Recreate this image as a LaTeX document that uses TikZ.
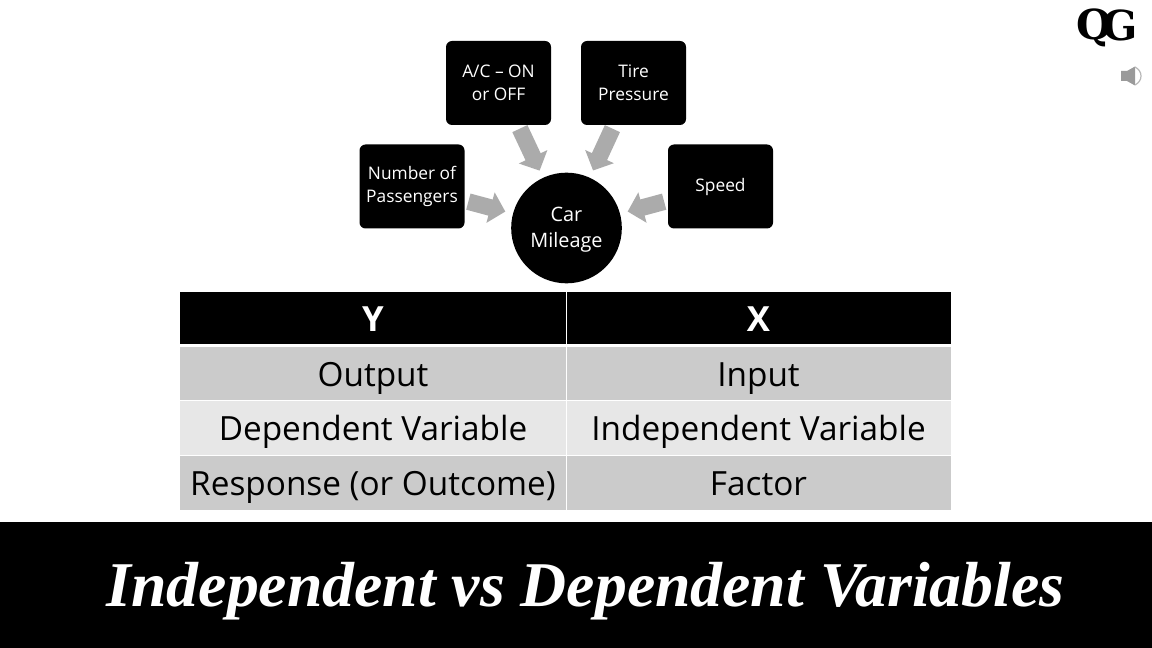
\documentclass[tikz,border=0pt]{standalone}
\usepackage{fontspec}
\setmainfont{Open Sans}
\newfontfamily\titlefont{Liberation Serif}
\newfontfamily\logofont{DejaVu Serif}
\usetikzlibrary{arrows.meta}
\definecolor{arrowgray}{HTML}{ABABAB}
\definecolor{rowdark}{HTML}{CBCBCB}
\definecolor{rowlight}{HTML}{E7E7E7}
\definecolor{speakergray}{HTML}{9A9A9A}
\tikzset{
  x=0.75pt,y=-0.75pt,
  boxnode/.style={fill=black,rounded corners=4.5pt,minimum width=78.75pt,minimum height=63pt,inner sep=0pt,outer sep=0pt,text=white,align=center,font=\fontsize{13}{17}\selectfont},
  hubnode/.style={circle,fill=black,minimum size=83pt,inner sep=0pt,outer sep=0pt,text=white,align=center,font=\fontsize{14.9}{19}\selectfont},
  blockarrow/.style={draw=arrowgray,line width=12.5pt,shorten >=6pt,shorten <=3pt,-{Triangle[length=11.5pt,width=23pt,fill=arrowgray,color=arrowgray]}},
  cellnode/.style={anchor=base,inner sep=0pt,outer sep=0pt,font=\fontsize{25}{30}\selectfont},
  headnode/.style={anchor=base,inner sep=0pt,outer sep=0pt,text=white,font=\fontsize{26}{30}\selectfont\bfseries},
  logonode/.style={inner sep=0pt,font=\logofont\fontsize{31}{31}\selectfont\bfseries},
}
\begin{document}
\begin{tikzpicture}
\useasboundingbox (0,0) rectangle (1152,648);
\fill[white] (0,0) rectangle (1152,648);
% boxes
\node[boxnode] (ac) at (498.5,83) {A/C -- ON\\or OFF};
\node[boxnode] (tire) at (633.5,83) {Tire\\Pressure};
\node[boxnode] (num) at (412,186.5) {Number of\\Passengers};
\node[boxnode] (speed) at (720.5,186.5) {Speed};
\node[hubnode] (car) at (566.5,228) {\rule{0pt}{13.5pt}Car\\Mileage};
\draw[blockarrow] (num) -- (car);
\draw[blockarrow] (ac) -- (car);
\draw[blockarrow] (tire) -- (car);
\draw[blockarrow] (speed) -- (car);
% table
\fill[black] (180,292) rectangle (951,344.5);
\fill[rowdark] (180,347) rectangle (951,400);
\fill[rowlight] (180,400.5) rectangle (951,455);
\fill[rowdark] (180,456) rectangle (951,509.5);
\draw[white,line width=0.7pt] (566,292) -- (566,509.5);
\node[headnode] (y) at (373,331) {Y};
\node[headnode] (x) at (758.5,331) {X};
\node[cellnode] (c1) at (373,386) {Output};
\node[cellnode] (d1) at (758.5,386) {Input};
\node[cellnode] (c2) at (373,440.5) {Dependent Variable};
\node[cellnode] (d2) at (758.5,440.5) {Independent Variable};
\node[cellnode] (c3) at (373,495) {Response (or Outcome)};
\node[cellnode] (d3) at (758.5,495) {Factor};
% banner
\fill[black] (0,522) rectangle (1152,648);
\node[anchor=base,text=white,inner sep=0pt,font=\titlefont\fontsize{47.8}{50}\selectfont\bfseries\itshape] (title) at (585.5,606) {Independent vs Dependent Variables};
% logo
\node[logonode] (q) at (1094,27.5) {Q};
\node[logonode] (g) at (1120,25.5) {G};
% speaker
\fill[speakergray] (1121,71) -- (1127,71) -- (1135,66.5) -- (1135,85.5) -- (1127,81) -- (1121,81) -- cycle;
\draw[speakergray!70,line width=0.9pt] (1135,67) .. controls (1143,71) and (1143,81) .. (1135,85);
\end{tikzpicture}
\end{document}
